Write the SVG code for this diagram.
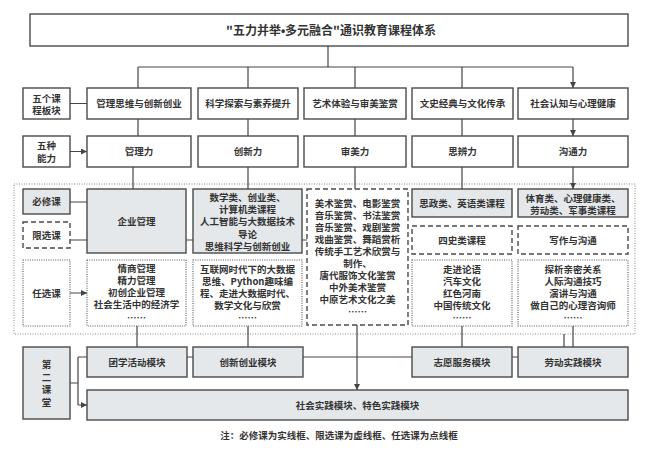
<svg xmlns="http://www.w3.org/2000/svg" width="650" height="462" viewBox="0 0 650 462">
<defs>
<marker id="ah" viewBox="0 0 6 6" refX="6" refY="3" markerWidth="6" markerHeight="6" markerUnits="userSpaceOnUse" orient="auto"><path d="M0,0 L6,3 L0,6 z" fill="#444"/></marker>
<style>
text{font-family:"Noto Sans CJK SC","Noto Sans",sans-serif;font-size:9.5px;font-weight:bold;fill:#333;text-anchor:middle}
.t{font-size:12px}
.lat{font-family:"Liberation Sans",sans-serif}
.s{fill:#fff;stroke:#4a4a4a;stroke-width:1.4}
.g{fill:#e5e8eb;stroke:#4a4a4a;stroke-width:1.4}
.d{fill:#fff;stroke:#4a4a4a;stroke-width:1.4;stroke-dasharray:5 3}
.o{fill:#fff;stroke:#555;stroke-width:1.1;stroke-dasharray:1 1.3}
.frame{fill:none;stroke:#888;stroke-width:1;stroke-dasharray:1 1.5}
.c{fill:none;stroke:#444;stroke-width:1.2}
.a{marker-end:url(#ah)}
</style>
</defs>
<rect width="650" height="462" fill="#fff"/>
<rect class="frame" x="14" y="184" width="621" height="150"/>
<g id="connectors">
<path class="c" d="M328,46 V67 M138,67 H573"/>
<path class="c a" d="M138,67 V88 M248,67 V88 M355,67 V88 M462,67 V88 M573,67 V88"/>
<path class="c a" d="M138,119 V136 M248,119 V136 M355,119 V136 M462,119 V136 M573,119 V136"/>
<path class="c a" d="M70,103.5 H87 M70,151.5 H87"/>
<path class="c a" d="M133,167 V189 M248,167 V189 M355,167 V189 M462,167 V189 M573,167 V189"/>
<path class="c a" d="M70,202 H87 M70,293 H87"/>
<path class="c" d="M70,240 H307"/>
<path class="c a" d="M137,326 V347 M248,326 V347 M573,326 V347 M357,325 V390"/>
<path class="c" d="M462,326 V347 M564,334 V347 M187,357 H518"/>
<path class="c" d="M70,383 H78 M78,357 V405"/>
<path class="c a" d="M78,357 H87 M78,405 H87"/>
</g>
<g id="title"><rect class="s" x="30" y="14" width="598" height="32"/><text class="t" x="331" y="35">"五力并举<tspan class="lat">•</tspan>多元融合"通识教育课程体系</text></g>
<g id="lbl-modules"><rect class="s" x="23" y="88" width="47" height="31"/><text x="46.5" y="101.5">五个课<tspan x="46.5" dy="12">程板块</tspan></text></g>
<g id="lbl-abilities"><rect class="s" x="23" y="136" width="47" height="31"/><text x="46.5" y="148.5">五种<tspan x="46.5" dy="13">能力</tspan></text></g>
<g id="m1"><rect class="s" x="87" y="88" width="104" height="31"/><text x="139" y="107">管理思维与创新创业</text></g>
<g id="m2"><rect class="s" x="198" y="88" width="100" height="31"/><text x="248" y="107">科学探索与素养提升</text></g>
<g id="m3"><rect class="s" x="304" y="88" width="102" height="31"/><text x="355" y="107">艺术体验与审美鉴赏</text></g>
<g id="m4"><rect class="s" x="412" y="88" width="101" height="31"/><text x="462.5" y="107">文史经典与文化传承</text></g>
<g id="m5"><rect class="s" x="518" y="88" width="110" height="31"/><text x="573" y="107">社会认知与心理健康</text></g>
<g id="a1"><rect class="s" x="87" y="136" width="104" height="31"/><text x="139" y="155">管理力</text></g>
<g id="a2"><rect class="s" x="198" y="136" width="100" height="31"/><text x="248" y="155">创新力</text></g>
<g id="a3"><rect class="s" x="304" y="136" width="102" height="31"/><text x="355" y="155">审美力</text></g>
<g id="a4"><rect class="s" x="412" y="136" width="101" height="31"/><text x="462.5" y="155">思辨力</text></g>
<g id="a5"><rect class="s" x="518" y="136" width="110" height="31"/><text x="573" y="155">沟通力</text></g>
<g id="lbl-required"><rect class="g" x="23" y="189" width="47" height="25"/><text x="46.5" y="205">必修课</text></g>
<g id="lbl-limited"><rect class="d" x="23" y="222" width="47" height="26"/><text x="46.5" y="238.5">限选课</text></g>
<g id="lbl-optional"><rect class="o" x="23" y="260" width="47" height="66"/><text x="46.5" y="296.5">任选课</text></g>
<g id="c1-req"><rect class="g" x="87" y="189" width="99" height="64"/><text x="136.5" y="224.5">企业管理</text></g>
<g id="c1-opt"><rect class="o" x="87" y="260" width="99" height="66"/><text x="136.5" y="271.5">情商管理<tspan x="136.5" dy="12.2">精力管理</tspan><tspan x="136.5" dy="12.3">初创企业管理</tspan><tspan x="136.5" dy="12.3">社会生活中的经济学</tspan><tspan x="136.5" dy="12.5">……</tspan></text></g>
<g id="c2-req"><rect class="g" x="193" y="189" width="109" height="64"/><text x="247.5" y="200.5">数学类、创业类、<tspan x="247.5" dy="12.4">计算机类课程</tspan><tspan x="247.5" dy="12.4">人工智能与大数据技术</tspan><tspan x="247.5" dy="12.2">导论</tspan><tspan x="247.5" dy="12.4">思维科学与创新创业</tspan></text></g>
<g id="c2-opt"><rect class="o" x="193" y="260" width="109" height="66"/><text x="247.5" y="272.5">互联网时代下的大数据<tspan x="247.5" dy="12">思维、Python趣味编</tspan><tspan x="247.5" dy="12">程、走进大数据时代、</tspan><tspan x="247.5" dy="12">数学文化与欣赏</tspan><tspan x="247.5" dy="12.5">……</tspan></text></g>
<g id="c3-lim"><rect class="d" x="307" y="189" width="101" height="136"/><text x="357.5" y="206.5">美术鉴赏、电影鉴赏<tspan x="357.5" dy="12.1">音乐鉴赏、书法鉴赏</tspan><tspan x="357.5" dy="12.1">音乐鉴赏、戏剧鉴赏</tspan><tspan x="357.5" dy="12.1">戏曲鉴赏、舞蹈赏析</tspan><tspan x="357.5" dy="12.1">传统手工艺术欣赏与</tspan><tspan x="357.5" dy="12.1">制作、</tspan><tspan x="357.5" dy="12.1">唐代服饰文化鉴赏</tspan><tspan x="357.5" dy="12.1">中外美术鉴赏</tspan><tspan x="357.5" dy="12.1">中原艺术文化之美</tspan><tspan x="357.5" dy="12.1">……</tspan></text></g>
<g id="c4-req"><rect class="g" x="412" y="189" width="100" height="28"/><text x="462" y="206.5">思政类、英语类课程</text></g>
<g id="c4-lim"><rect class="d" x="412" y="226" width="100" height="28"/><text x="462" y="243.5">四史类课程</text></g>
<g id="c4-opt"><rect class="o" x="412" y="260" width="100" height="66"/><text x="462" y="272.5">走进论语<tspan x="462" dy="12">汽车文化</tspan><tspan x="462" dy="12">红色河南</tspan><tspan x="462" dy="12">中国传统文化</tspan><tspan x="462" dy="12.5">……</tspan></text></g>
<g id="c5-req"><rect class="g" x="518" y="189" width="110" height="28"/><text x="573" y="201.5">体育类、心理健康类、<tspan x="573" dy="12">劳动类、军事类课程</tspan></text></g>
<g id="c5-lim"><rect class="d" x="518" y="226" width="110" height="28"/><text x="573" y="243.5">写作与沟通</text></g>
<g id="c5-opt"><rect class="o" x="518" y="260" width="110" height="66"/><text x="573" y="272.5">探析亲密关系<tspan x="573" dy="12">人际沟通技巧</tspan><tspan x="573" dy="12">演讲与沟通</tspan><tspan x="573" dy="12">做自己的心理咨询师</tspan><tspan x="573" dy="12.5">……</tspan></text></g>
<g id="lbl-second"><rect class="g" x="23" y="347" width="47" height="72"/><text x="46.5" y="368">第<tspan x="46.5" dy="12.5">二</tspan><tspan x="46.5" dy="12.5">课</tspan><tspan x="46.5" dy="12.5">堂</tspan></text></g>
<g id="s1"><rect class="g" x="87" y="347" width="100" height="30"/><text x="137" y="365.5">团学活动模块</text></g>
<g id="s2"><rect class="g" x="193" y="347" width="110" height="30"/><text x="248" y="365.5">创新创业模块</text></g>
<g id="s3"><rect class="g" x="412" y="347" width="100" height="30"/><text x="462" y="365.5">志愿服务模块</text></g>
<g id="s4"><rect class="g" x="518" y="347" width="110" height="30"/><text x="573" y="365.5">劳动实践模块</text></g>
<g id="s5"><rect class="g" x="87" y="390" width="541" height="30"/><text x="357.5" y="408.5">社会实践模块、特色实践模块</text></g>
<text x="339" y="438.5">注：必修课为实线框、限选课为虚线框、任选课为点线框</text>
</svg>
